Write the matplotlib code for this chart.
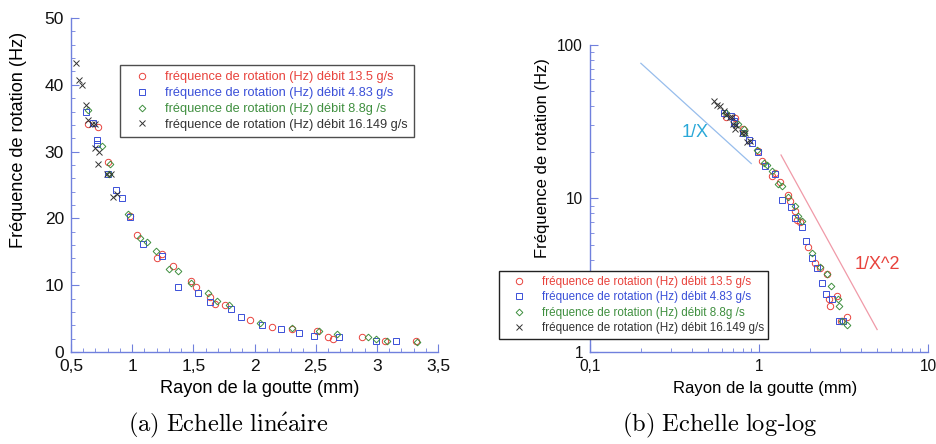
import matplotlib
matplotlib.use('agg')
from matplotlib import pyplot as plt
from matplotlib.ticker import MultipleLocator, FuncFormatter, LogLocator, NullFormatter
import numpy as np

plt.rcParams['font.family'] = ['Liberation Sans', 'DejaVu Sans']
plt.rcParams['mathtext.fontset'] = 'cm'

# data: drop radius (mm) and rotation frequency (Hz)
r_135 = [0.642, 0.718, 0.80, 0.98, 1.037, 1.20, 1.247, 1.33, 1.48, 1.52, 1.64, 1.677, 1.76,
         1.96, 2.14, 2.31, 2.51, 2.60, 2.64, 2.88, 3.07, 3.32]
f_135 = [34.2, 33.7, 28.5, 20.4, 17.5, 14.1, 14.7, 12.9, 10.6, 9.7, 8.3, 7.2, 7.0,
         4.8, 3.8, 3.5, 3.2, 2.2, 2.0, 2.3, 1.6, 1.7]

r_483 = [0.62, 0.68, 0.71, 0.71, 0.805, 0.868, 0.914, 0.982, 1.09, 1.247, 1.372, 1.54, 1.64,
         1.805, 1.887, 2.064, 2.217, 2.364, 2.486, 2.69, 2.99, 3.16]
f_483 = [35.9, 34.3, 31.8, 31.1, 26.6, 24.2, 23.1, 20.2, 16.2, 14.4, 9.8, 8.8, 7.5,
         6.5, 5.3, 4.1, 3.5, 2.8, 2.4, 2.2, 1.6, 1.6]

r_88 = [0.642, 0.751, 0.819, 0.813, 0.969, 1.064, 1.119, 1.195, 1.304, 1.377, 1.478, 1.623,
        1.696, 1.794, 2.045, 2.304, 2.527, 2.672, 2.925, 2.993, 3.08, 3.33]
f_88 = [36.3, 30.8, 28.2, 26.6, 20.7, 17.0, 16.5, 15.1, 12.5, 12.1, 10.3, 8.9,
        7.7, 7.1, 4.4, 3.6, 3.2, 2.7, 2.2, 2.0, 1.6, 1.5]

r_16149 = [0.541, 0.565, 0.587, 0.620, 0.642, 0.674, 0.696, 0.70, 0.718, 0.729, 0.797, 0.824,
           0.846, 0.88]
f_16149 = [43.3, 40.7, 40.0, 37.0, 34.8, 34.1, 34.2, 30.6, 28.2, 29.9, 26.7, 26.6,
           23.2, 23.6]

labels = ["fréquence de rotation (Hz) débit 13.5 g/s",
          "fréquence de rotation (Hz) débit 4.83 g/s",
          "fréquence de rotation (Hz) débit 8.8g /s",
          "fréquence de rotation (Hz) débit 16.149 g/s"]

# guide lines on the log-log plot
x_inv = [0.2, 0.9]
k_inv = 15.2
x_inv2 = [1.35, 5.0]
k_inv2 = 35.0

red = '#e8423c'
blue = '#3a4fd8'
green = '#3f8f3f'
dark = '#333333'
spine_col = '#7080dd'

series = [(r_135, f_135, 'o', red), (r_483, f_483, 's', blue),
          (r_88, f_88, 'D', green), (r_16149, f_16149, 'x', dark)]


def comma(v, pos):
    return ('%g' % v).replace('.', ',')


def style_axes(ax, size):
    for s in ['top', 'right']:
        ax.spines[s].set_visible(False)
    for s in ['left', 'bottom']:
        ax.spines[s].set_color(spine_col)
        ax.spines[s].set_linewidth(1.0)
    ax.tick_params(which='both', direction='in', color=spine_col, labelcolor='#111111',
                   labelsize=size, pad=5)
    ax.tick_params(which='major', length=6)
    ax.tick_params(which='minor', length=3)


def draw_points(ax):
    for (xs, ys, m, c), lab in zip(series, labels):
        ms = 3.4 if m == 'D' else 4.6
        ax.plot(xs, ys, ls='none', marker=m, mfc='none', mec=c, ms=ms, mew=0.7, label=lab)


def color_legend(leg):
    leg.get_frame().set_linewidth(1.0)
    leg.set_zorder(10)
    for t, (_, _, _, c) in zip(leg.get_texts(), series):
        t.set_color(c)


fig = plt.figure(figsize=(9.36, 4.44), dpi=100)
W, H = 936.0, 444.0

# (a) linear
ax1 = fig.add_axes([71 / W, 1 - 352 / H, (438 - 71) / W, (352 - 18) / H])
draw_points(ax1)
ax1.set_xlim(0.5, 3.5)
ax1.set_ylim(0, 50)
ax1.xaxis.set_major_locator(MultipleLocator(0.5))
ax1.xaxis.set_minor_locator(MultipleLocator(0.1))
ax1.yaxis.set_major_locator(MultipleLocator(10))
ax1.yaxis.set_minor_locator(MultipleLocator(2))
ax1.xaxis.set_major_formatter(FuncFormatter(comma))
style_axes(ax1, 12.5)
ax1.set_xlabel("Rayon de la goutte (mm)", fontsize=13.1)
ax1.set_ylabel("Fréquence de rotation (Hz)", fontsize=13.1)
ax1.xaxis.set_label_coords(0.515, -0.085)
ax1.yaxis.set_label_coords(-0.12, 0.635)
leg1 = ax1.legend(loc='upper left', bbox_to_anchor=(49 / 367, 1 - 47 / 334), fontsize=9.2,
                  frameon=True, fancybox=False, edgecolor='#222222', handlelength=2.5,
                  handletextpad=0.5, borderpad=0.5, labelspacing=0.3, borderaxespad=0)
color_legend(leg1)

# (b) log-log
ax2 = fig.add_axes([590 / W, 1 - 352 / H, (928 - 590) / W, (352 - 45) / H])
draw_points(ax2)
xa = np.array(x_inv)
ax2.plot(xa, k_inv / xa, color='#97bdec', lw=0.9)
xb = np.array(x_inv2)
ax2.plot(xb, k_inv2 / xb ** 2, color='#f09aa8', lw=0.9)
ax2.text(0.42, 27, "1/X", color='#2aa8d8', fontsize=13, ha='center', va='center')
ax2.text(5.0, 3.7, "1/X^2", color='#e8423c', fontsize=13, ha='center', va='center')
ax2.set_xscale('log')
ax2.set_yscale('log')
ax2.set_xlim(0.1, 10)
ax2.set_ylim(1, 100)
ax2.xaxis.set_minor_locator(LogLocator(base=10, subs=np.arange(2, 10)))
ax2.yaxis.set_minor_locator(LogLocator(base=10, subs=np.arange(2, 10)))
ax2.xaxis.set_minor_formatter(NullFormatter())
ax2.yaxis.set_minor_formatter(NullFormatter())
ax2.xaxis.set_major_formatter(FuncFormatter(comma))
ax2.yaxis.set_major_formatter(FuncFormatter(comma))
style_axes(ax2, 11.2)
ax2.set_xlabel("Rayon de la goutte (mm)", fontsize=12)
ax2.set_ylabel("Fréquence de rotation (Hz)", fontsize=12)
ax2.xaxis.set_label_coords(0.518, -0.094)
ax2.yaxis.set_label_coords(-0.118, 0.632)
leg2 = ax2.legend(loc='upper left', bbox_to_anchor=(-91 / 338, 1 - 226 / 307), fontsize=8.4,
                  frameon=True, fancybox=False, edgecolor='#222222', handlelength=2.7,
                  handletextpad=0.55, borderpad=0.4, labelspacing=0.3, borderaxespad=0,
                  framealpha=1)
color_legend(leg2)

# captions in Computer Modern
fig.text(228 / W, 1 - 425 / H, r"$\mathrm{(a)\ Echelle\ lin\acute{\mathrm{e}}aire}$",
         fontsize=17.6, ha='center', va='center')
fig.text(720 / W, 1 - 425 / H, r"$\mathrm{(b)\ Echelle\ log}$-$\mathrm{log}$", fontsize=17.6,
         ha='center', va='center')

fig.savefig('out.png', dpi=100)
